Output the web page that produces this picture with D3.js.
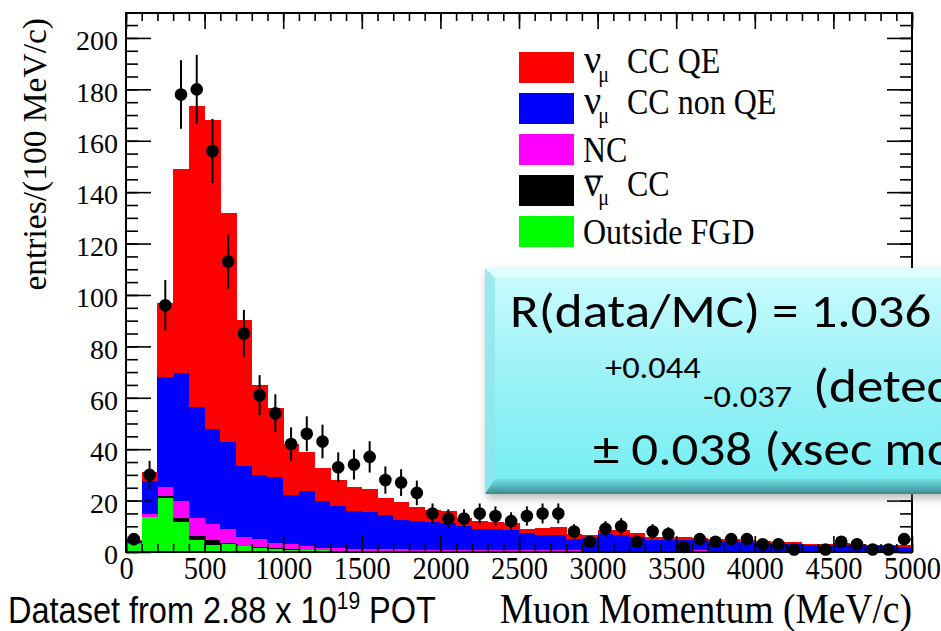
<!DOCTYPE html>
<html><head><meta charset="utf-8">
<script src="https://cdn.jsdelivr.net/npm/d3@7"></script>
<style>
html,body{margin:0;padding:0;background:#fff;}
svg{display:block;}
</style></head>
<body>
<svg id="c" width="941" height="631"></svg>
<script>
// ---------- data ----------
const binEdges = d3.range(0, 5001, 100);           // 50 bins of 100 MeV/c
const seriesNames = ["Outside FGD", "anti-numu CC", "NC", "numu CC non QE", "numu CC QE"];
const outsideFGD = [3.2,13.6,21.1,11.8,4.8,2.6,3.2,2.2,1.7,1.2,0.9,0.8,0.6,0.3,0.3,0.3,0.3,0.2,0.2,0.2,0.3,0.1,0.1,0.1,0.1,0.1,0.1,0.1,0.1,0.1,0.1,0.1,0.1,0.1,0.1,0.1,0.1,0.1,0,0,0,0,0,0,0,0,0,0,0,0];
const antiNumuCC = [0,0,0.5,1.6,1.3,1.9,0.3,0.3,0.2,0.2,0.1,0.1,0.1,0.1,0.1,0.1,0.1,0.1,0.1,0.1,0.1,0.1,0.1,0,0,0,0,0,0,0,0,0,0,0,0,0,0,0,0,0,0,0,0,0,0,0,0,0,0,0];
const ncValues   = [0.2,1.3,3.7,6.4,7,6.3,5.6,3.3,3.3,2.1,2.0,1.6,0.7,1.0,0.9,0.7,0.6,0.7,0.6,0.6,0.5,0.6,0.6,0.6,0.6,0.6,0.5,0.5,0.5,0.4,0.4,0.4,0.4,0.4,0.4,0.4,0.6,0.3,0.4,0.4,0.3,0.3,0.3,0.3,0.3,0.3,0.3,0.3,0.3,0.3];
const ccNonQE    = [0.9,12.7,42.8,50,43.3,37.2,33.8,27.6,24.9,25.5,19.2,21.4,18.6,16.4,14.8,14.3,13.4,11.6,11.1,10.6,10.2,9.2,8.1,8.2,7.9,6.6,6.0,6.2,4.3,4.8,6.5,6.1,5.5,4.2,4.2,4.2,3.9,3.8,3.7,3.6,3.1,3.0,2.9,2.4,2.3,2.5,2.3,2.0,1.9,1.8];
const ccQE       = [0.3,3.4,28.9,79.2,117.1,120,89.1,56.9,34.9,26.9,20,15.1,12.5,10.1,9.1,9.0,6.8,6.9,5.6,4.8,4.7,3.1,3.3,2.9,2.6,1.5,2.9,3.1,2.1,1.3,1.6,2.0,1.5,1.3,1.3,1.2,1.0,0.8,0.8,0.8,0.7,0.7,0.6,0.5,0.6,0.7,0.6,0.6,0.6,0.5];
const dataCounts = [5,30,96,178,180,156,113,85,61,54,42,46,43,33,34,37,28,27,23,15,13,13,15,14,12,14,15,15,8,4,9,10,4,8,7,2,5,4,5,5,3,3,1,null,1,4,3,1,1,5];
const xTickLabels = [0,500,1000,1500,2000,2500,3000,3500,4000,4500,5000];
const yTickLabels = [0,20,40,60,80,100,120,140,160,180,200];
const seriesColors = ["#00ff00","#000000","#ff00ff","#0000ff","#ff0000"];

// ---------- layout ----------
const svg = d3.select("#c");
const L = 126, R = 912, T = 13, B = 552;
const x = d3.scaleLinear().domain([0,5000]).range([L,R]);
const y = d3.scaleLinear().domain([0,209.7]).range([B,T]);
const serif = "'Liberation Serif','Times New Roman',serif";

// stacked histogram
const rows = d3.range(50).map(i => ({i, x0: binEdges[i], x1: binEdges[i+1],
  s0: outsideFGD[i], s1: antiNumuCC[i], s2: ncValues[i], s3: ccNonQE[i], s4: ccQE[i]}));
const stack = d3.stack().keys(["s0","s1","s2","s3","s4"]);
const layers = stack(rows);
const hist = svg.append("g");
layers.forEach((layer, k) => {
  hist.append("g").attr("fill", seriesColors[k]).attr("shape-rendering","crispEdges")
    .selectAll("rect").data(layer).join("rect")
    .attr("x", d => x(d.data.x0))
    .attr("width", d => x(d.data.x1) - x(d.data.x0) + 0.5)
    .attr("y", d => y(d[1]))
    .attr("height", d => Math.max(0, y(d[0]) - y(d[1])));
});

// frame & ticks via d3 axes
function styleAxis(g){ g.select(".domain").remove(); g.selectAll("line").attr("stroke","#000").attr("stroke-width",1.6); }
const minorX = d3.range(0,5001,100), majorX = xTickLabels;
const minorY = d3.range(0,210,5), majorY = yTickLabels;

svg.append("g").attr("transform",`translate(0,${B})`)
  .call(d3.axisBottom(x).tickValues(minorX).tickSize(-8).tickFormat("")).call(styleAxis);
const xb = svg.append("g").attr("transform",`translate(0,${B})`)
  .call(d3.axisBottom(x).tickValues(majorX).tickSize(-16).tickPadding(6).tickFormat(d3.format("d"))).call(styleAxis);
xb.selectAll("text").attr("font-family",serif).attr("font-size",28.5).attr("fill","#000")
  .attr("transform", "translate(0,-2.8) scale(1,1.12)");

svg.append("g").attr("transform",`translate(0,${T})`)
  .call(d3.axisTop(x).tickValues(minorX).tickSize(-8).tickFormat("")).call(styleAxis);
svg.append("g").attr("transform",`translate(0,${T})`)
  .call(d3.axisTop(x).tickValues(majorX).tickSize(-16).tickFormat("")).call(styleAxis);

svg.append("g").attr("transform",`translate(${L},0)`)
  .call(d3.axisLeft(y).tickValues(minorY).tickSize(-12).tickFormat("")).call(styleAxis);
const yl = svg.append("g").attr("transform",`translate(${L},0)`)
  .call(d3.axisLeft(y).tickValues(majorY).tickSize(-25).tickPadding(8).tickFormat(d3.format("d"))).call(styleAxis);
yl.selectAll("text").attr("font-family",serif).attr("font-size",28).attr("fill","#000").attr("dy","0.42em");

svg.append("g").attr("transform",`translate(${R},0)`)
  .call(d3.axisRight(y).tickValues(minorY).tickSize(-12).tickFormat("")).call(styleAxis);
svg.append("g").attr("transform",`translate(${R},0)`)
  .call(d3.axisRight(y).tickValues(majorY).tickSize(-25).tickFormat("")).call(styleAxis);

svg.append("rect").attr("x",L).attr("y",T).attr("width",R-L).attr("height",B-T)
  .attr("fill","none").attr("stroke","#000").attr("stroke-width",2);

// data points with sqrt(N) errors
const pts = dataCounts.map((v,i)=>({v, xc:(binEdges[i]+binEdges[i+1])/2})).filter(d=>d.v!==null);
const pg = svg.append("g");
pg.selectAll("line").data(pts).join("line")
  .attr("x1",d=>x(d.xc)).attr("x2",d=>x(d.xc))
  .attr("y1",d=>y(Math.max(0,d.v-Math.sqrt(d.v)))).attr("y2",d=>y(d.v+Math.sqrt(d.v)))
  .attr("stroke","#000").attr("stroke-width",2);
pg.selectAll("circle").data(pts).join("circle")
  .attr("cx",d=>x(d.xc)).attr("cy",d=>y(d.v)).attr("r",6.3).attr("fill","#000");

// helper: text placed at (tx,ty) with non-uniform scale
function stext(tx, ty, sx, sy){
  return svg.append("text").attr("transform",`translate(${tx},${ty}) scale(${sx},${sy})`).attr("fill","#000");
}

// legend
const legendLabels = [["ν","μ","CC QE"],["ν","μ","CC non QE"],["NC","",""],["ν","μ","CC"],["Outside FGD","",""]];
const legendColors = ["#ff0000","#0000ff","#ff00ff","#000000","#00ff00"];
legendLabels.forEach((lab,k)=>{
  const cy = 67.5 + k*41;
  svg.append("rect").attr("x",519).attr("y",cy-15.5).attr("width",55).attr("height",31).attr("fill",legendColors[k]);
  if(lab[1]){
    const base = cy + 5.5;
    const t = stext(584, base, 1, 1.12).attr("font-family",serif).attr("font-size",32);
    t.append("tspan").attr("font-size",38).text(lab[0]);
    t.append("tspan").attr("dx",-3).attr("dy",8).attr("font-size",20).text(lab[1]);
    t.append("tspan").attr("x",43).attr("dy",-8).text(lab[2]);
    if(k===3){
      svg.append("line").attr("x1",585).attr("x2",603).attr("y1",cy-14).attr("y2",cy-14).attr("stroke","#000").attr("stroke-width",2);
    }
  } else {
    stext(583, cy + 12, 1, 1.12).attr("font-family",serif).attr("font-size",32).text(lab[0]);
  }
});

// axis titles
svg.append("text").attr("transform","translate(46,18) rotate(-90)").attr("text-anchor","end")
  .attr("font-family",serif).attr("font-size",33.5).attr("fill","#000").text("entries/(100 MeV/c)");
stext(912, 623, 1, 1.12).attr("text-anchor","end").attr("font-family",serif).attr("font-size",37.5)
  .text("Muon Momentum (MeV/c)");
const ds = stext(8, 623, 1, 1.15).attr("font-family","'Liberation Sans',Arial,sans-serif").attr("font-size",32.5);
ds.append("tspan").text("Dataset from 2.88 x 10");
ds.append("tspan").attr("dy",-12).attr("font-size",21).text("19");
ds.append("tspan").attr("dy",12).text(" POT");

// callout box
const defs = svg.append("defs");
const gr = defs.append("linearGradient").attr("id","boxg").attr("x1",0).attr("y1",0).attr("x2",0).attr("y2",1);
gr.append("stop").attr("offset","0%").attr("stop-color","#cbfbfd");
gr.append("stop").attr("offset","55%").attr("stop-color","#95f1f6");
gr.append("stop").attr("offset","100%").attr("stop-color","#74eef3");
const bot = defs.append("linearGradient").attr("id","botg").attr("x1",0).attr("y1",0).attr("x2",0).attr("y2",1);
bot.append("stop").attr("offset","0%").attr("stop-color","#6fe2e6");
bot.append("stop").attr("offset","100%").attr("stop-color","#3e8b8d");
const flt = defs.append("filter").attr("id","sh").attr("x","-10%").attr("y","-10%").attr("width","130%").attr("height","140%");
flt.append("feGaussianBlur").attr("stdDeviation",4);

const bx = 485, by = 268, bw = 520, bh = 226, bev = 10;
svg.append("rect").attr("x",bx+2).attr("y",by+4).attr("width",bw).attr("height",bh).attr("fill","#777").attr("opacity",0.55).attr("filter","url(#sh)");
svg.append("rect").attr("x",bx).attr("y",by).attr("width",bw).attr("height",bh).attr("fill","url(#boxg)");
svg.append("path").attr("d",`M${bx},${by}L${bx+bw},${by}L${bx+bw-bev},${by+bev}L${bx+bev},${by+bev}Z`).attr("fill","#e6feff").attr("opacity",0.8);
svg.append("path").attr("d",`M${bx},${by}L${bx+bev},${by+bev}L${bx+bev},${by+bh-bev}L${bx},${by+bh}Z`).attr("fill","#8fe6ea").attr("opacity",0.8);
svg.append("path").attr("d",`M${bx},${by+bh}L${bx+bev},${by+bh-bev*1.5}L${bx+bw},${by+bh-bev*1.5}L${bx+bw},${by+bh}Z`).attr("fill","url(#botg)");

const cal = "Carlito,Calibri,Lato,'Open Sans',sans-serif";
const SX = 1.06, SY = 0.93;
stext(510, 327, SX, SY).attr("font-family",cal).attr("font-size",50).text("R(data/MC) = 1.036");
stext(605, 378, SX, SY).attr("font-family",cal).attr("font-size",32.5).text("+0.044");
stext(703, 407, SX, SY).attr("font-family",cal).attr("font-size",32.5).text("-0.037");
stext(813, 402, SX, SY).attr("font-family",cal).attr("font-size",50).text("(detector)");
stext(593, 465, SX, SY).attr("font-family",cal).attr("font-size",50).text("± 0.038 (xsec model)");
</script>
</body></html>
